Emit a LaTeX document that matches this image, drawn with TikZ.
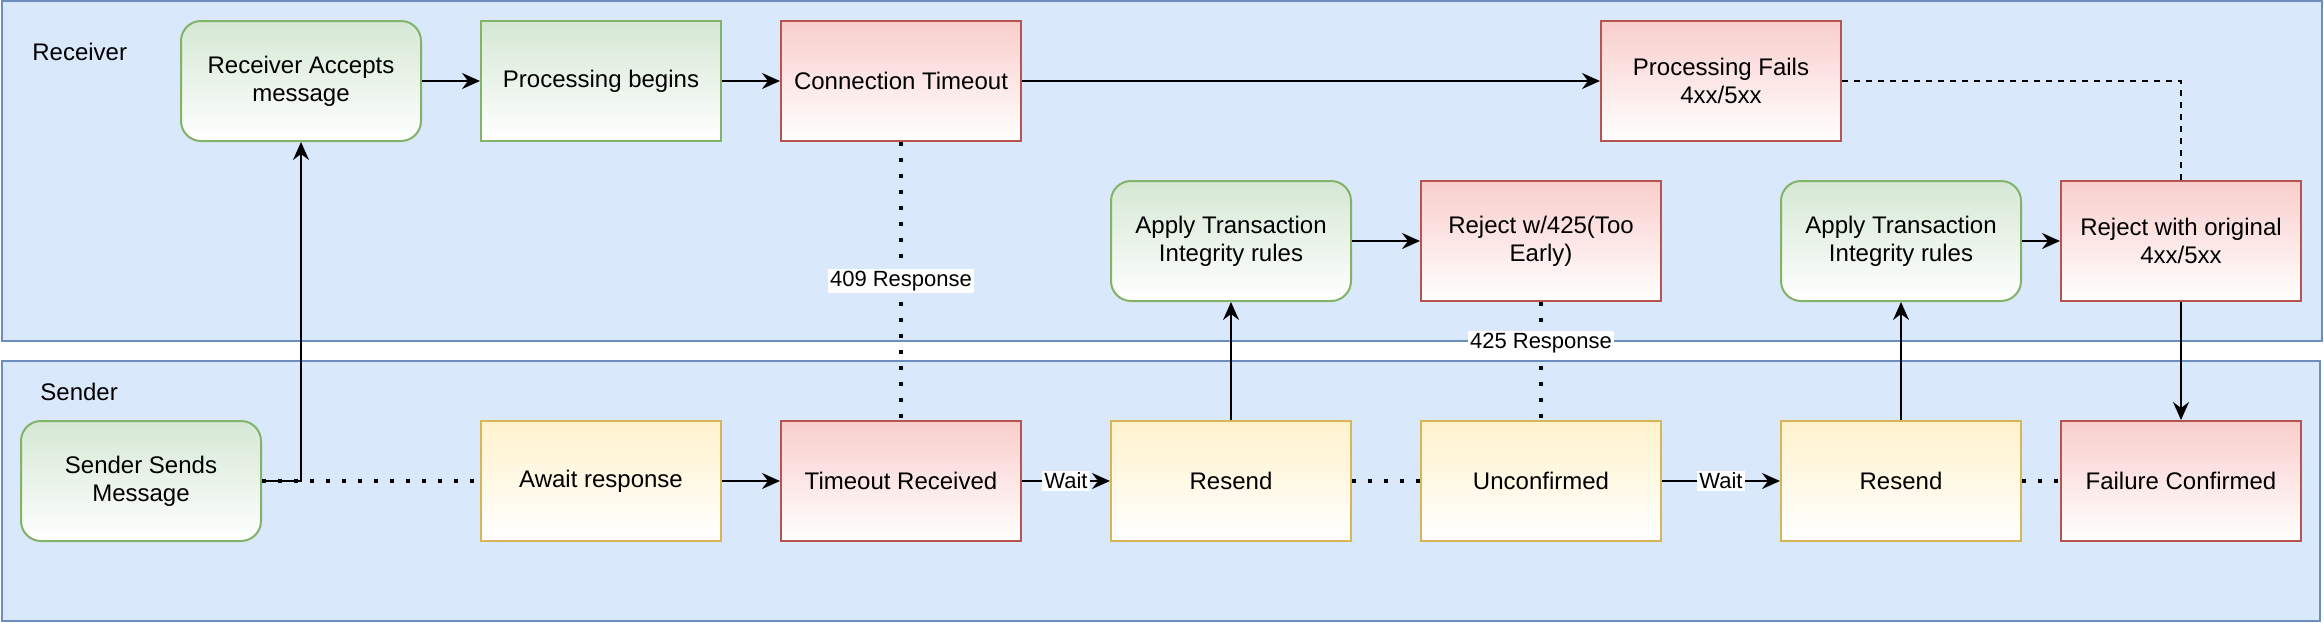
\documentclass[tikz,border=0pt]{standalone}
\usepackage{fontspec}
\setmainfont{Liberation Sans}
\usetikzlibrary{arrows.meta}
\definecolor{lanefill}{HTML}{DAE8FC}
\definecolor{lanedraw}{HTML}{6C8EBF}
\definecolor{greenfill}{HTML}{D5E8D4}
\definecolor{greendraw}{HTML}{82B366}
\definecolor{redfill}{HTML}{F8CECC}
\definecolor{reddraw}{HTML}{B85450}
\definecolor{yellowfill}{HTML}{FFF2CC}
\definecolor{yellowdraw}{HTML}{D6B656}
\begin{document}
\begin{tikzpicture}[x=0.5pt,y=-0.5pt,
  box/.style={minimum width=120pt,minimum height=60pt,inner sep=2pt,align=center,line width=1pt,
    font=\fontsize{12pt}{14pt}\selectfont},
  greenbox/.style={box,draw=greendraw,top color=greenfill,bottom color=white},
  greenround/.style={greenbox,rounded corners=10pt},
  redbox/.style={box,draw=reddraw,top color=redfill,bottom color=white},
  yellowbox/.style={box,draw=yellowdraw,top color=yellowfill,bottom color=white},
  lane/.style={draw=lanedraw,fill=lanefill,line width=1pt},
  lanelabel/.style={anchor=west,inner sep=0pt,font=\fontsize{12pt}{14pt}\selectfont},
  arr/.style={-{Stealth[length=9pt,width=8pt,inset=3pt]},line width=1pt},
  dotline/.style={line width=1.8pt,dash pattern=on 1.8pt off 6.2pt},
  dashline/.style={line width=0.8pt,dash pattern=on 3pt off 3pt},
  elabel/.style={fill=white,inner sep=1pt,font=\fontsize{11pt}{13pt}\selectfont}]
\useasboundingbox (0,0) rectangle (2324,622);
% lanes
\path[lane] (2,1) rectangle (2322,341);
\path[lane] (2,361) rectangle (2320,621);
\node[lanelabel] (lrec) at (32,52) {Receiver};
\node[lanelabel] (lsnd) at (40,392) {Sender};
% receiver nodes
\node[greenround] (ra) at (301,81) {Receiver Accepts\\message};
\node[greenbox] (pb) at (601,81) {Processing begins};
\node[redbox] (ct) at (901,81) {Connection Timeout};
\node[redbox] (pf) at (1721,81) {Processing Fails\\4xx/5xx};
\node[greenround] (ati1) at (1231,241) {Apply Transaction\\Integrity rules};
\node[redbox] (r425) at (1541,241) {Reject w/425(Too\\Early)};
\node[greenround] (ati2) at (1901,241) {Apply Transaction\\Integrity rules};
\node[redbox] (rorig) at (2181,241) {Reject with original\\4xx/5xx};
% sender nodes
\node[greenround] (ss) at (141,481) {Sender Sends\\Message};
\node[yellowbox] (await) at (601,481) {Await response};
\node[redbox] (tr) at (901,481) {Timeout Received};
\node[yellowbox] (rs1) at (1231,481) {Resend};
\node[yellowbox] (unc) at (1541,481) {Unconfirmed};
\node[yellowbox] (rs2) at (1901,481) {Resend};
\node[redbox] (fc) at (2181,481) {Failure Confirmed};
% connectors
\draw[dotline] (ss) -- (await);
\draw[arr] (ss.east) -| (ra.south);
\draw[arr] (ra) -- (pb);
\draw[arr] (pb) -- (ct);
\draw[arr] (ct) -- (pf);
\draw[arr] (await) -- (tr);
\draw[dotline] (ct) -- node[elabel]{409 Response} (tr);
\draw[arr] (tr) -- node[elabel]{Wait} (rs1);
\draw[arr] (rs1) -- (ati1);
\draw[arr] (ati1) -- (r425);
\draw[dotline] (r425) -- node[elabel,pos=0.35]{425 Response} (unc);
\draw[dotline] (rs1) -- (unc);
\draw[arr] (unc) -- node[elabel]{Wait} (rs2);
\draw[arr] (rs2) -- (ati2);
\draw[arr] (ati2) -- (rorig);
\draw[dashline] (pf.east) -| (rorig.north);
\draw[arr] (rorig) -- (fc);
\draw[dotline] (rs2) -- (fc);
\end{tikzpicture}
\end{document}
